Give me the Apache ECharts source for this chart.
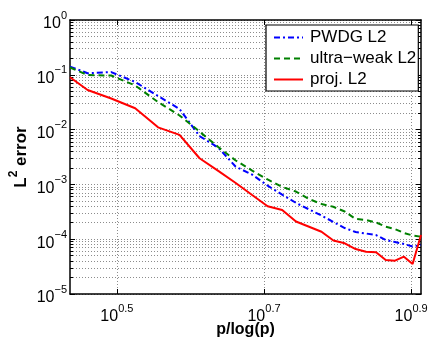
<!DOCTYPE html>
<html>
<head>
<meta charset="utf-8">
<script src="https://cdn.jsdelivr.net/npm/echarts@6/dist/echarts.min.js"></script>
<style>
html,body{margin:0;padding:0;background:#fff;}
#chart{width:430px;height:340px;}
</style>
</head>
<body>
<div id="chart"></div>
<script>
// x = p/log(p) for p = 3..27
var xValues = [2.7307, 2.8854, 3.1067, 3.3486, 3.5973, 3.8472, 4.0961, 4.3429, 4.5874, 4.8292,
  5.0684, 5.3050, 5.5390, 5.7708, 6.0003, 6.2275, 6.4529, 6.6761, 6.8977, 7.1174,
  7.3354, 7.5517, 7.7667, 7.9801, 8.1922];
var pwdgL2 = [0.141, 0.107, 0.112, 0.074, 0.041, 0.0238, 0.0076, 0.0047, 0.0021, 0.00151,
  0.00095, 0.00065, 0.00046, 0.00035, 0.00027, 0.000206, 0.00016, 0.000135, 0.000127, 0.000119,
  0.0000967, 0.0000889, 0.0000817, 0.0000736, 0.0000783];
var ultraWeakL2 = [0.136, 0.099, 0.097, 0.0638, 0.0319, 0.0181, 0.0092, 0.0048, 0.00273, 0.00179,
  0.00123, 0.00090, 0.00074, 0.00054, 0.00044, 0.00039, 0.00032, 0.000234, 0.000224, 0.000202,
  0.000169, 0.000153, 0.00013, 0.000117, 0.000111];
var projL2 = [0.090, 0.0528, 0.037, 0.0245, 0.011, 0.0080, 0.0030, 0.00176, 0.00106, 0.00064,
  0.00040, 0.00034, 0.00021, 0.000169, 0.000137, 0.0000946, 0.0000841, 0.0000662, 0.0000591, 0.0000577,
  0.0000417, 0.0000405, 0.000048, 0.0000353, 0.000119];
var seriesNames = ['PWDG L2', 'ultra\u2212weak L2', 'proj. L2'];
var xTickExps = ['0.5', '0.7', '0.9'];
var yTickExps = [-5, -4, -3, -2, -1, 0];
var minorMantissas = [2, 3, 4, 5, 6, 7, 8, 9];

var xMin = xValues[0], xMax = xValues[xValues.length - 1];
var xTicks = xTickExps.map(function (e) { return Math.pow(10, parseFloat(e)); });
var yTicks = yTickExps.map(function (e) { return Math.pow(10, e); });
var yMinor = [];
for (var i = 0; i < yTickExps.length - 1; i++) {
  minorMantissas.forEach(function (m) { yMinor.push(m * Math.pow(10, yTickExps[i])); });
}
function pairs(ys) { return xValues.map(function (x, i) { return [x, ys[i]]; }); }

var FONT = 'Liberation Sans';
var gridLine = { show: true, lineStyle: { color: '#8c8c8c', width: 1, type: [1, 2] } };
var rich = {
  b: { fontFamily: FONT, fontSize: 16, color: '#000', lineHeight: 22, verticalAlign: 'bottom' },
  s: { fontFamily: FONT, fontSize: 11, color: '#000', lineHeight: 11, verticalAlign: 'top' }
};
function xLabel(v) {
  var e = Math.log10(v);
  var idx = 0, best = 1e9;
  xTickExps.forEach(function (t, k) { var d = Math.abs(parseFloat(t) - e); if (d < best) { best = d; idx = k; } });
  return '{b|10}{s|' + xTickExps[idx] + '}';
}
function yLabel(v) {
  var e = Math.round(Math.log10(v));
  return '{b|10}{s|' + (e < 0 ? '\u2212' + (-e) : String(e)) + '}';
}
var axisLine = { show: true, onZero: false, lineStyle: { color: '#000', width: 1.5 } };

function xAx(pos, main) {
  return {
    type: 'log', logBase: 10, min: xMin, max: xMax, position: pos,
    axisLine: axisLine,
    axisTick: { show: true, inside: true, length: 5, customValues: xTicks, lineStyle: { color: '#000', width: 1 } },
    axisLabel: main ? { show: true, customValues: xTicks, formatter: xLabel, rich: rich, margin: 9, hideOverlap: false } : { show: false },
    splitLine: main ? gridLine : { show: false },
    minorTick: { show: false }, minorSplitLine: { show: false },
    name: main ? 'p/log(p)' : '', nameLocation: 'middle', nameGap: 28, nameMoveOverlap: false,
    nameTextStyle: { fontFamily: FONT, fontSize: 16, fontWeight: 'bold', color: '#000' }
  };
}
function yAx(pos, major, main) {
  return {
    type: 'log', logBase: 10, min: 1e-5, max: 1, position: pos, offset: 0,
    axisLine: major ? axisLine : { show: false },
    axisTick: { show: true, inside: true, length: major ? 5 : 3, customValues: major ? yTicks : yMinor, lineStyle: { color: '#000', width: 1 } },
    axisLabel: main ? { show: true, customValues: yTicks, formatter: yLabel, rich: rich, margin: 3, padding: [4, 0, 2, 0], hideOverlap: false } : { show: false },
    splitLine: (pos === 'left') ? gridLine : { show: false },
    minorTick: { show: false }, minorSplitLine: { show: false },
    name: main ? '{n|L}{t|2}{n| error}' : '', nameLocation: 'middle', nameGap: 40, nameRotate: 90, nameMoveOverlap: false,
    nameTextStyle: {
      rich: {
        n: { fontFamily: FONT, fontSize: 17, fontWeight: 'bold', color: '#000', lineHeight: 22, verticalAlign: 'bottom' },
        t: { fontFamily: FONT, fontSize: 12, fontWeight: 'bold', color: '#000', lineHeight: 12, verticalAlign: 'top' }
      }
    }
  };
}

var chart = echarts.init(document.getElementById('chart'), null, { renderer: 'canvas' });
chart.setOption({
  animation: false,
  backgroundColor: '#fff',
  grid: { left: 70, right: 9, top: 20, bottom: 46, containLabel: false, outerBoundsMode: 'none' },
  legend: {
    data: seriesNames,
    orient: 'vertical', left: 266, top: 25,
    itemWidth: 29, itemHeight: 12, itemGap: 4,
    padding: [4, 2, 3, 7],
    backgroundColor: '#fff', borderColor: '#000', borderWidth: 1.2,
    itemStyle: { opacity: 0 },
    textStyle: { fontFamily: FONT, fontSize: 17, color: '#000', padding: [0, 0, 0, 2] },
    z: 10
  },
  xAxis: [xAx('bottom', true), xAx('top', false)],
  yAxis: [yAx('left', true, true), yAx('left', false, false), yAx('right', true, false), yAx('right', false, false)],
  series: [
    { name: seriesNames[0], type: 'line', data: pairs(pwdgL2), symbol: 'none', xAxisIndex: 0, yAxisIndex: 0,
      lineStyle: { color: '#0000ff', width: 2, type: [6, 3, 2, 3] }, itemStyle: { color: '#0000ff' }, z: 3 },
    { name: seriesNames[1], type: 'line', data: pairs(ultraWeakL2), symbol: 'none', xAxisIndex: 0, yAxisIndex: 0,
      lineStyle: { color: '#008000', width: 2, type: [6, 4] }, itemStyle: { color: '#008000' }, z: 3 },
    { name: seriesNames[2], type: 'line', data: pairs(projL2), symbol: 'none', xAxisIndex: 0, yAxisIndex: 0,
      lineStyle: { color: '#ff0000', width: 2, type: 'solid' }, itemStyle: { color: '#ff0000' }, z: 4 }
  ]
});
</script>
</body>
</html>
